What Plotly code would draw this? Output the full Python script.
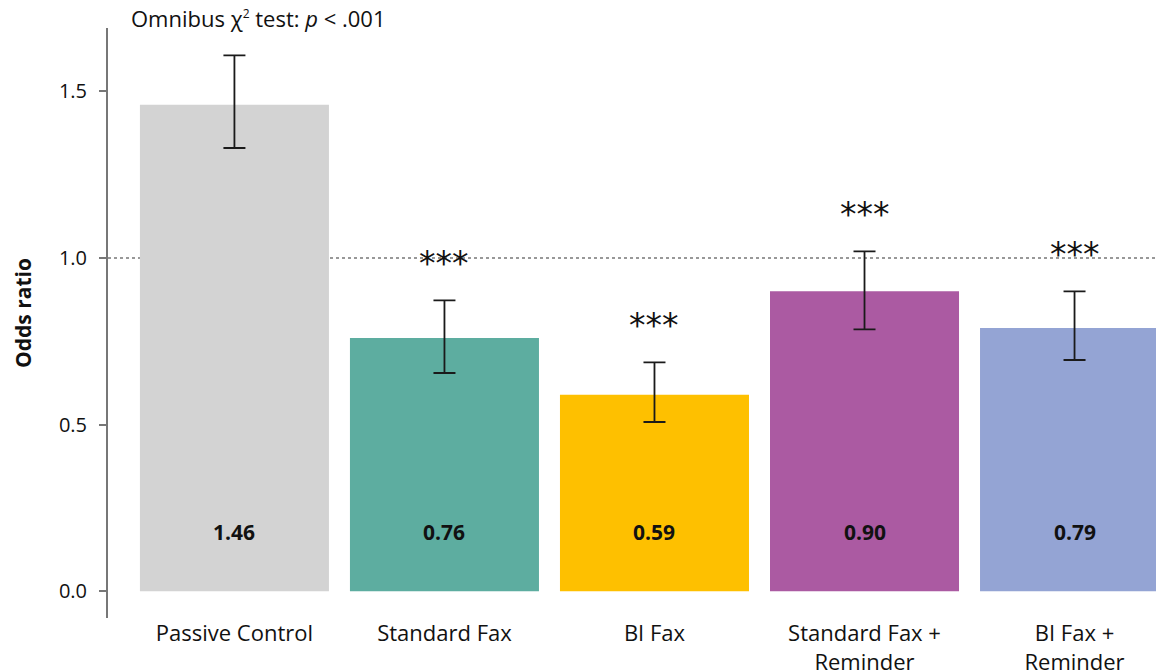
import plotly.graph_objects as go

categories = ["Passive Control", "Standard Fax", "BI Fax", "Standard Fax +<br>Reminder", "BI Fax +<br>Reminder"]
odds_ratio = [1.46, 0.76, 0.59, 0.90, 0.79]
ci_low = [1.33, 0.655, 0.508, 0.786, 0.694]
ci_high = [1.608, 0.873, 0.687, 1.02, 0.90]
significance = ["", "***", "***", "***", "***"]
colors = ["#d3d3d3", "#5dada0", "#fec000", "#ab5aa2", "#94a4d4"]

FONT = "Open Sans"
TXT = "#111"
x_idx = list(range(len(categories)))

fig = go.Figure()
fig.add_trace(go.Bar(
    x=x_idx, y=odds_ratio, width=0.9,
    marker=dict(color=colors, line=dict(width=0)),
    error_y=dict(type="data", symmetric=False,
                 array=[h - v for h, v in zip(ci_high, odds_ratio)],
                 arrayminus=[v - l for l, v in zip(ci_low, odds_ratio)],
                 color="#1a1a1a", thickness=1.8, width=11),
    hoverinfo="skip", showlegend=False,
))

annotations = []
for i, v in enumerate(odds_ratio):
    annotations.append(dict(x=i, y=0.177, xref="x", yref="y", text=f"<b>{v:.2f}</b>",
                            showarrow=False, font=dict(family=FONT, size=21, color=TXT)))
    if significance[i]:
        annotations.append(dict(x=i, y=ci_high[i] + 0.11, xref="x", yref="y", text=significance[i],
                                showarrow=False, font=dict(family="DejaVu Sans", size=33, color=TXT)))

annotations.append(dict(x=-0.5, xref="x", xanchor="left", y=1.0, yref="paper", yanchor="middle", yshift=10,
                        text="Omnibus χ<sup><span style='font-size:12px'>2</span></sup> test: <i>p</i> < .001",
                        showarrow=False, font=dict(family=FONT, size=22, color=TXT)))

annotations.append(dict(x=-0.0805, xref="paper", xanchor="center", y=0.517, yref="paper", yanchor="middle",
                        text="<b>Odds ratio</b>", textangle=-90, showarrow=False,
                        font=dict(family=FONT, size=21, color=TXT)))

# page body has an 8px default margin, so the figure is offset by 8px
fig.update_layout(
    width=1156, height=664,
    margin=dict(l=100, r=0, t=20, b=54),
    paper_bgcolor="white", plot_bgcolor="white",
    font=dict(family=FONT, size=22, color=TXT),
    bargap=0.1,
    annotations=annotations,
    shapes=[dict(type="line", xref="paper", x0=0, x1=1, yref="y", y0=1.0, y1=1.0,
                 line=dict(color="#777", width=1.5, dash="dot"), layer="below")],
    xaxis=dict(range=[-0.602, 4.426], tickmode="array", tickvals=x_idx, ticktext=categories,
               showgrid=False, zeroline=False, showline=False, ticks="", automargin=False,
               tickfont=dict(family=FONT, size=22, color=TXT)),
    yaxis=dict(range=[-0.08, 1.69], tickvals=[0, 0.5, 1.0, 1.5], ticktext=["0.0", "0.5", "1.0", "1.5"],
               showgrid=False, zeroline=False, showline=True, linecolor="#777", linewidth=2,
               ticks="outside", ticklen=7, tickcolor="#777", tickwidth=1.5, ticklabelstandoff=8,
               automargin=False,
               tickfont=dict(family=FONT, size=20, color=TXT)),
)

fig.write_html("out.html")
